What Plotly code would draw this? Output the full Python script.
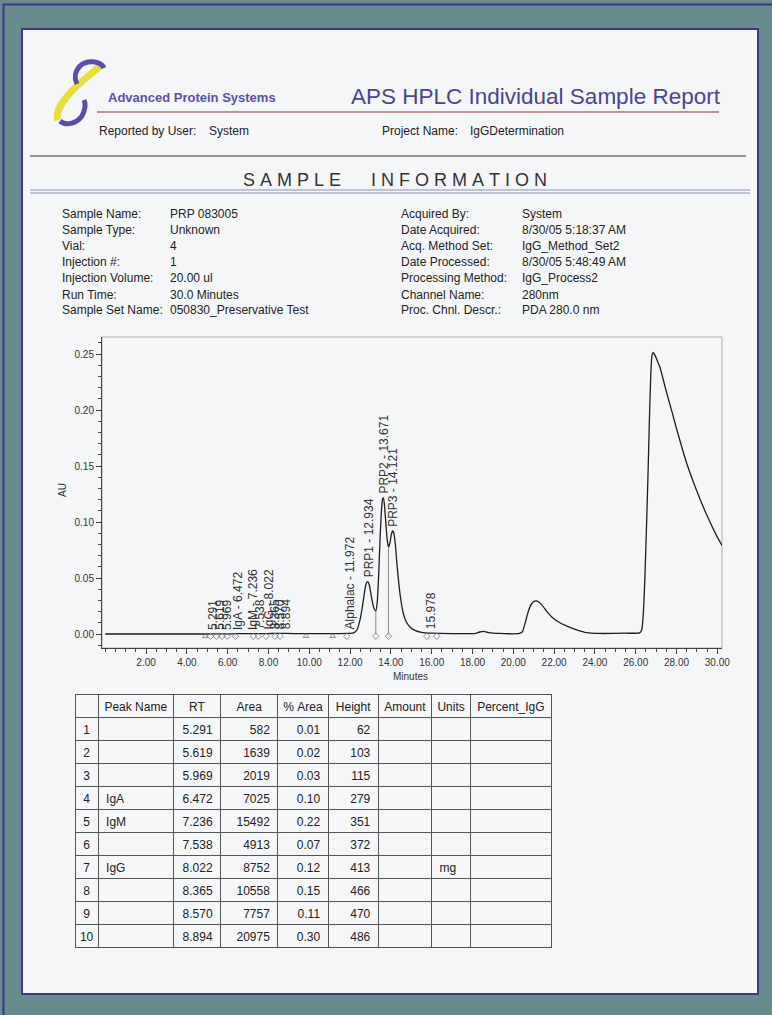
import plotly.graph_objects as go

W, H = 772, 1015

# ---------------- chromatogram ----------------
time_min = [0.0, 5.0, 5.29, 5.62, 5.97, 6.47, 7.24, 7.54, 8.02, 8.37, 8.57, 8.89, 9.5, 11.0,
            11.97, 12.2, 12.35, 12.45, 12.55, 12.65, 12.73, 12.8, 12.87, 12.94, 13.02, 13.1,
            13.18, 13.26, 13.33, 13.4, 13.47, 13.53, 13.59, 13.64, 13.7, 13.76, 13.82, 13.88,
            13.95, 14.02, 14.08, 14.14, 14.22, 14.3, 14.4, 14.5, 14.6, 14.75, 14.95, 15.2, 15.5,
            16.0, 17.0, 18.1, 18.35, 18.55, 18.8, 19.3, 20.3, 20.45, 20.6, 20.75, 20.9, 21.05,
            21.2, 21.4, 21.65, 21.9, 22.2, 22.6, 23.1, 23.6, 24.2, 25.5, 26.2, 26.3, 26.38,
            26.45, 26.52, 26.6, 26.67, 26.74, 26.8, 26.86, 26.93, 27.05, 27.2, 27.5, 27.8, 28.0,
            28.5, 29.0, 29.5, 30.0, 30.23]
absorbance_au = [0.0, 0.0, 0.0001, 0.0001, 0.0001, 0.0003, 0.0003, 0.0004, 0.0004, 0.0005,
                 0.0005, 0.0005, 0.0003, 0.0003, 0.0005, 0.0012, 0.004, 0.010, 0.0185, 0.030,
                 0.040, 0.0455, 0.0467, 0.044, 0.036, 0.028, 0.0225, 0.0205, 0.028, 0.052,
                 0.085, 0.108, 0.1205, 0.1215, 0.112, 0.097, 0.084, 0.0775, 0.081, 0.0885,
                 0.0920, 0.0905, 0.080, 0.062, 0.043, 0.029, 0.019, 0.011, 0.006, 0.003, 0.0015,
                 0.0007, 0.0004, 0.0004, 0.0018, 0.0023, 0.0012, 0.0005, 0.0005, 0.002, 0.011,
                 0.021, 0.027, 0.0293, 0.0292, 0.026, 0.020, 0.015, 0.011, 0.0072, 0.0037,
                 0.0012, 0.0005, 0.0007, 0.001, 0.004, 0.02, 0.05, 0.09, 0.14, 0.19, 0.232,
                 0.249, 0.2515, 0.2495, 0.2445, 0.2375, 0.2165, 0.197, 0.1835, 0.1525, 0.1275,
                 0.1055, 0.0865, 0.079]

peak_rt = [5.291, 5.619, 5.969, 6.472, 7.236, 7.538, 8.022, 8.365, 8.570, 8.894,
           11.972, 12.934, 13.671, 14.121, 15.978]
peak_name = ["", "", "", "IgA", "IgM", "", "IgG", "", "", "",
             "Alphalac", "PRP1", "PRP2", "PRP3", ""]
peak_label_au = [0.0001, 0.0001, 0.0001, 0.0003, 0.0004, 0.0004, 0.0004, 0.0005, 0.0005, 0.0005,
                 0.0005, 0.0467, 0.1215, 0.0920, 0.0005]

mark_open_t = [5.16, 5.45, 5.72, 5.98, 6.38, 7.26, 7.5, 7.88, 8.32, 8.57, 11.84, 13.26, 13.88, 15.76, 16.25]
mark_tri_t = [4.9, 9.84, 11.15]
mark_au = -0.002
drop_t = [13.26, 13.88]
drop_au = [0.0205, 0.0775]

x_tick_vals = [2, 4, 6, 8, 10, 12, 14, 16, 18, 20, 22, 24, 26, 28, 30]
y_tick_vals = [0.00, 0.05, 0.10, 0.15, 0.20, 0.25]

# ---------------- peak table ----------------
tbl_header = ["", "Peak\u00a0Name", "RT", "Area", "%\u00a0Area", "Height", "Amount", "Units", "Percent_IgG"]
tbl_index = [1, 2, 3, 4, 5, 6, 7, 8, 9, 10]
tbl_name = ["", "", "", "IgA", "IgM", "", "IgG", "", "", ""]
tbl_rt = ["5.291", "5.619", "5.969", "6.472", "7.236", "7.538", "8.022", "8.365", "8.570", "8.894"]
tbl_area = [582, 1639, 2019, 7025, 15492, 4913, 8752, 10558, 7757, 20975]
tbl_pct_area = ["0.01", "0.02", "0.03", "0.10", "0.22", "0.07", "0.12", "0.15", "0.11", "0.30"]
tbl_height = [62, 103, 115, 279, 351, 372, 413, 466, 470, 486]
tbl_amount = [""] * 10
tbl_units = ["", "", "", "", "", "", "mg", "", "", ""]
tbl_pct_igg = [""] * 10

# ---------------- sample information ----------------
info_left_labels = ["Sample Name:", "Sample Type:", "Vial:", "Injection #:", "Injection Volume:",
                    "Run Time:", "Sample Set Name:"]
info_left_values = ["PRP 083005", "Unknown", "4", "1", "20.00 ul", "30.0 Minutes",
                    "050830_Preservative Test"]
info_right_labels = ["Acquired By:", "Date Acquired:", "Acq. Method Set:", "Date Processed:",
                     "Processing Method:", "Channel Name:", "Proc. Chnl. Descr.:"]
info_right_values = ["System", "8/30/05 5:18:37 AM", "IgG_Method_Set2", "8/30/05 5:48:49 AM",
                     "IgG_Process2", "280nm", "PDA 280.0 nm"]
info_rows_y = [214, 230, 246, 262, 278, 295, 310]

FONT = "Liberation Sans, Arial, sans-serif"
PAGE = "#f5f6f8"
TEAL = "#688b8d"
PURPLE = "#3e368c"


def px(x):
    return x / W


def py(y):
    return 1 - y / H


def path(points):
    s = "M %.5f,%.5f" % (px(points[0][0]), py(points[0][1]))
    for i in range(1, len(points), 3):
        a, b, c = points[i], points[i + 1], points[i + 2]
        s += " C %.5f,%.5f %.5f,%.5f %.5f,%.5f" % (px(a[0]), py(a[1]), px(b[0]), py(b[1]),
                                                   px(c[0]), py(c[1]))
    return s


fig = go.Figure()

# chromatogram line
fig.add_trace(go.Scatter(x=time_min, y=absorbance_au, mode="lines",
                         line=dict(color="#1e1e1e", width=1.3, shape="spline", smoothing=0.4),
                         hoverinfo="skip", showlegend=False))
# drop lines at valleys
for t, a in zip(drop_t, drop_au):
    fig.add_trace(go.Scatter(x=[t, t], y=[0, a], mode="lines",
                             line=dict(color="#8a8a8a", width=1), showlegend=False,
                             hoverinfo="skip"))
# integration marks
fig.add_trace(go.Scatter(x=mark_open_t, y=[mark_au] * len(mark_open_t), mode="markers",
                         marker=dict(symbol="diamond-open", size=5, color="#777777",
                                     line=dict(width=0.8)),
                         showlegend=False, hoverinfo="skip"))
fig.add_trace(go.Scatter(x=mark_tri_t, y=[mark_au] * len(mark_tri_t), mode="markers",
                         marker=dict(symbol="triangle-up-open", size=5, color="#777777",
                                     line=dict(width=0.8)),
                         showlegend=False, hoverinfo="skip"))

# peak labels
for rt, nm, au in zip(peak_rt, peak_name, peak_label_au):
    label = ("%s - %.3f" % (nm, rt)) if nm else ("%.3f" % rt)
    fig.add_annotation(x=rt, y=au, xref="x", yref="y", text=label, showarrow=False,
                       textangle=-90, xanchor="center", yanchor="bottom", yshift=2,
                       font=dict(family=FONT, size=12, color="#333333"))

# peak table
fig.add_trace(go.Table(
    domain=dict(x=[px(75), px(551)], y=[py(975), py(694)]),
    columnwidth=[23, 75, 47, 57, 50, 50, 53, 39, 80],
    header=dict(values=tbl_header, align="center", height=23,
                fill_color=PAGE, line=dict(color="#555555", width=1),
                font=dict(family=FONT, size=12, color="#222222")),
    cells=dict(values=[tbl_index, tbl_name, tbl_rt, tbl_area, tbl_pct_area, tbl_height,
                       tbl_amount, tbl_units, tbl_pct_igg],
               align=["center", "left", "right", "right", "right", "right", "left", "left", "left"],
               height=23, fill_color=PAGE, line=dict(color="#555555", width=1),
               font=dict(family=FONT, size=12, color="#222222"))))

shapes = [
    # outer frame
    dict(type="rect", xref="paper", yref="paper", x0=px(3.5), x1=px(790), y0=py(1030), y1=py(4.5),
         line=dict(color=PURPLE, width=2), layer="below"),
    # page
    dict(type="rect", xref="paper", yref="paper", x0=px(22), x1=px(758), y0=py(994), y1=py(29),
         fillcolor=PAGE, line=dict(color=PURPLE, width=2), layer="below"),
    # maroon rule under title
    dict(type="line", xref="paper", yref="paper", x0=px(97), x1=px(719), y0=py(112), y1=py(112),
         line=dict(color="#7d2c3a", width=1), layer="below"),
    # black rule
    dict(type="line", xref="paper", yref="paper", x0=px(30), x1=px(746), y0=py(156), y1=py(156),
         line=dict(color="#333333", width=1.2), layer="below"),
    # double rule under SAMPLE INFORMATION
    dict(type="line", xref="paper", yref="paper", x0=px(30), x1=px(750), y0=py(190), y1=py(190),
         line=dict(color="#8d92b6", width=1.2), layer="below"),
    dict(type="line", xref="paper", yref="paper", x0=px(30), x1=px(750), y0=py(193), y1=py(193),
         line=dict(color="#8d92b6", width=1.2), layer="below"),
    # plot frame (top/right light)
    dict(type="rect", xref="x domain", yref="y domain", x0=0, x1=1, y0=0, y1=1,
         line=dict(color="#b0b0b0", width=1), layer="below"),
    # logo
    dict(type="path", xref="paper", yref="paper",
         path=path([(100, 66), (92, 74), (74, 86), (66, 98), (58, 108), (56, 116), (58, 120)]),
         line=dict(color="#e6df3c", width=7), layer="below"),
    dict(type="path", xref="paper", yref="paper",
         path=path([(104, 68), (100, 60), (86, 60), (80, 66), (75, 71), (74, 78), (77, 84)]),
         line=dict(color="#5a4fa8", width=5), layer="below"),
    dict(type="path", xref="paper", yref="paper",
         path=path([(60, 121), (66, 126), (76, 124), (82, 116), (85, 110), (86, 104), (84, 100)]),
         line=dict(color="#5a4fa8", width=5), layer="below"),
]

ann = []


def txt(x, y, s, size=12, color="#222222", xanchor="left"):
    ann.append(dict(x=px(x), y=py(y), xref="paper", yref="paper", text=s, showarrow=False,
                    xanchor=xanchor, yanchor="middle",
                    font=dict(family=FONT, size=size, color=color)))


txt(106, 98, "<b>Advanced Protein Systems</b>", size=13, color="#5a50a6")
txt(349, 96, "APS HPLC Individual Sample Report", size=22.5, color="#4a4494")
txt(97, 131, "Reported by User:", size=12)
txt(207, 131, "System", size=12)
txt(380, 131, "Project Name:", size=12)
txt(468, 131, "IgGDetermination", size=12)
nb = "\u00a0"
word1 = nb.join("SAMPLE")
word2 = nb.join("INFORMATION")
txt(395, 180, word1 + nb * 6 + word2, size=18, color="#333333", xanchor="center")

for lab, val, lab2, val2, y in zip(info_left_labels, info_left_values, info_right_labels,
                                   info_right_values, info_rows_y):
    txt(60, y, lab, size=12)
    txt(168, y, val, size=12)
    txt(399, y, lab2, size=12)
    txt(520, y, val2, size=12)

txt(62, 490, "AU", size=10, color="#333333", xanchor="center")
txt(410, 676, "Minutes", size=10, color="#333333", xanchor="center")

# rotate AU
ann[-2]["textangle"] = -90

fig.update_layout(
    width=W, height=H, margin=dict(l=0, r=0, t=0, b=0),
    paper_bgcolor=TEAL, plot_bgcolor="rgba(0,0,0,0)",
    shapes=shapes, annotations=list(fig.layout.annotations) + ann,
    showlegend=False,
    font=dict(family=FONT, color="#333333"),
    xaxis=dict(domain=[px(102), px(722)], range=[-0.16, 30.23], tickmode="array",
               tickvals=x_tick_vals, ticktext=["%.2f" % v for v in x_tick_vals],
               ticks="outside", ticklen=5, tickcolor="#444444", showline=True,
               linecolor="#444444", linewidth=1, showgrid=False, zeroline=False,
               tickfont=dict(size=10, color="#333333"), automargin=False,
               minor=dict(ticks="outside", ticklen=3, dtick=0.5, tick0=0,
                          tickcolor="#444444", showgrid=False)),
    yaxis=dict(domain=[py(648), py(337)], range=[-0.0125, 0.2652], tickmode="array",
               tickvals=y_tick_vals, ticktext=["%.2f" % v for v in y_tick_vals],
               ticks="outside", ticklen=5, tickcolor="#444444", showline=True,
               linecolor="#444444", linewidth=1, showgrid=False, zeroline=False,
               tickfont=dict(size=10, color="#333333"), automargin=False,
               minor=dict(ticks="outside", ticklen=3, dtick=0.01, tick0=0,
                          tickcolor="#444444", showgrid=False)),
)

fig.write_html("out.html", config={"displayModeBar": False},
               post_script="document.body.style.margin='0px';document.body.style.overflow='hidden';")
